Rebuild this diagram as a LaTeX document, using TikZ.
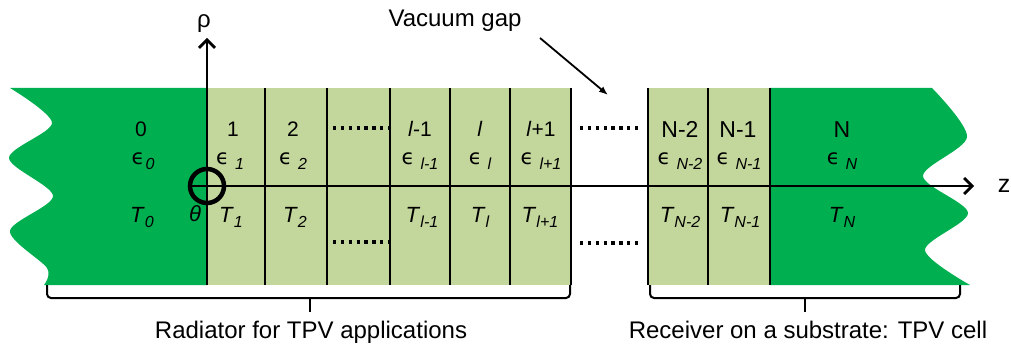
\documentclass[tikz,border=0pt]{standalone}
\usepackage{fontspec}
\setmainfont{Liberation Sans}
\newfontfamily\epsfont{DejaVu Sans}
\usetikzlibrary{arrows.meta}
\definecolor{deepgreen}{HTML}{00B050}
\definecolor{palegreen}{HTML}{C3D69B}
\newcommand{\lowsub}[1]{\raisebox{-5pt}{\fontsize{16}{16}\selectfont\itshape #1}}
\newcommand{\epsof}[2][6pt]{{\epsfont\fontsize{21}{21}\selectfont ϵ}\hspace{#1}\lowsub{#2}}
\newcommand{\tempof}[1]{\textit{T}\lowsub{#1}}

\begin{document}
\begin{tikzpicture}[x=1pt,y=-1pt,
    lab/.style={anchor=base,inner sep=0pt,font=\fontsize{21}{24}\selectfont},
    sym/.style={anchor=base,inner sep=0pt,font=\fontsize{22}{24}\selectfont},
    captext/.style={anchor=base,inner sep=0pt,font=\fontsize{24}{28}\selectfont},
    wall/.style={line width=2.8pt},
    dotrow/.style={line width=3.2pt,dash pattern=on 3.2pt off 4.66pt},
    bracket/.style={line width=2pt,rounded corners=4pt},
    axisarrow/.style={line width=2.7pt,-{Straight Barb[length=8pt,width=16pt]}}]
  \useasboundingbox (0,0) rectangle (1011,347);

  % slabs
  \fill[deepgreen] (207,88) -- (10,88) -- plot[smooth] coordinates {(10,88) (52,123) (9,158) (53,196) (10,231) (47,268) (44,285)} -- (207,285) -- cycle;
  \fill[palegreen] (207,88) rectangle (571,285);
  \fill[palegreen] (648,88) rectangle (770,285);
  \fill[deepgreen] (770,88) -- (932,88) -- plot[smooth] coordinates {(932,88) (967,137) (923,176) (968,213) (925,250) (970,285)} -- (770,285) -- cycle;
  \foreach \x in {265,327,390,450,510,571,648,708,770}
    \draw[wall] (\x,88) -- (\x,285);

  % axes
  \coordinate (base) at (207,285);
  \coordinate (rtip) at (207,38);
  \coordinate (ztip) at (974,186);
  \node[circle,draw,line width=4.5pt,minimum size=34pt,inner sep=0pt] (orig) at (207,186) {};
  \draw[axisarrow] (base) -- (rtip);
  \draw[axisarrow] (orig.west) -- (ztip);
  \node[anchor=base,inner sep=0pt,font=\fontsize{24}{28}\selectfont] (rho) at (204,28) {ρ};
  \node[anchor=base,inner sep=0pt,font=\fontsize{25}{28}\selectfont] (zl) at (1004,193) {z};

  % dots
  \draw[dotrow] (333,128) -- (391,128);
  \draw[dotrow] (333,242) -- (391,242);
  \draw[dotrow] (580,128) -- (638,128);
  \draw[dotrow] (580,243) -- (638,243);

  % layer labels
  \node[lab] (n0) at (141,137) {0};
  \node[lab] (n1) at (233,137) {1};
  \node[lab] (n2) at (293,137) {2};
  \node[lab] (n4) at (420,137) {\textit{l}-1};
  \node[lab] (n5) at (480,137) {\textit{l}};
  \node[lab] (n6) at (541,137) {\textit{l}+1};
  \node[lab,font=\fontsize{23}{26}\selectfont] (n7) at (680,138) {N-2};
  \node[lab,font=\fontsize{23}{26}\selectfont] (n8) at (738,138) {N-1};
  \node[lab,font=\fontsize{23}{26}\selectfont] (nN) at (842,138) {N};

  \node[sym] (e0) at (143,165) {\epsof[1pt]{0}};
  \node[sym] (e1) at (230,165) {\epsof{1}};
  \node[sym] (e2) at (293,165) {\epsof{2}};
  \node[sym] (e4) at (420,165) {\epsof{l-1}};
  \node[sym] (e5) at (480,165) {\epsof{l}};
  \node[sym] (e6) at (541,165) {\epsof{l+1}};
  \node[sym] (e7) at (680,165) {\epsof{N-2}};
  \node[sym] (e8) at (739,165) {\epsof{N-1}};
  \node[sym] (eN) at (842,165) {\epsof{N}};

  \node[sym] (t0) at (142,223) {\tempof{0}};
  \node[sym] (th) at (195,222) {\textit{θ}};
  \node[sym] (t1) at (231,223) {\tempof{1}};
  \node[sym] (t2) at (295,223) {\tempof{2}};
  \node[sym] (t4) at (422,223) {\tempof{l-1}};
  \node[sym] (t5) at (480,223) {\tempof{l}};
  \node[sym] (t6) at (540,223) {\tempof{l+1}};
  \node[sym] (t7) at (680,223) {\tempof{N-2}};
  \node[sym] (t8) at (740,223) {\tempof{N-1}};
  \node[sym] (tN) at (842,223) {\tempof{N}};

  % vacuum gap
  \node[captext] (vac) at (455,27) {Vacuum gap};
  \coordinate (va) at (540,38);
  \coordinate (gap) at (608,95);
  \draw[line width=1.8pt,-{Latex[length=9pt,width=7pt]}] (va) -- (gap);

  % brackets
  \draw[bracket] (47,285) |- (310,298) -| (570,285);
  \draw[bracket] (310,298) -- (310,312);
  \draw[bracket] (650,285) |- (805,298) -| (960,285);
  \draw[bracket] (805,298) -- (805,312);
  \node[captext] (rad) at (311,338) {Radiator for TPV applications};
  \node[captext] (rec) at (808,338) {Receiver on a substrate: TPV cell};
\end{tikzpicture}
\end{document}
